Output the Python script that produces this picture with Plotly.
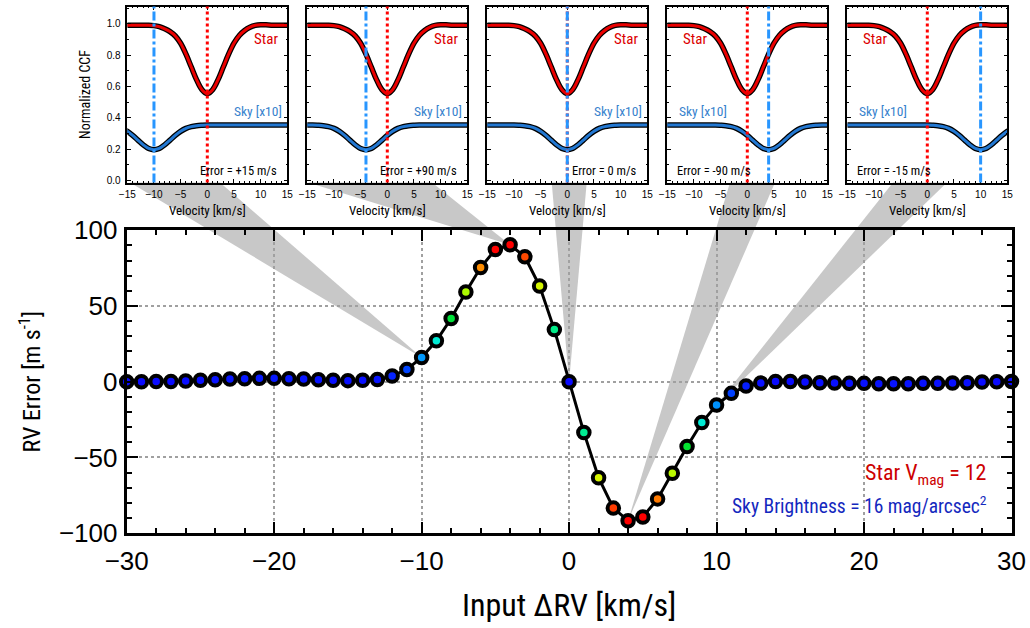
import plotly.graph_objects as go

W, H = 1030, 628

# ------------------------------------------------------------------ data
input_drv = list(range(-30, 31))
rv_error = [0.0, 0.0, 0.1, 0.2, 0.5, 0.9, 1.3, 1.8, 2.0, 2.2,
            2.2, 2.0, 1.8, 1.3, 0.9, 0.7, 0.9, 1.5, 3.7, 8.1,
            16.0, 27.0, 41.7, 59.2, 75.4, 87.3, 90.4, 82.5, 63.2, 34.4,
            0.0,
            -33.5, -63.4, -83.5, -91.8, -89.3, -77.4, -60.5, -42.8, -27.0, -15.4,
            -7.7, -2.9, -0.9, 0.2, 0.2, -0.2, -0.7, -0.9, -1.1, -1.1,
            -1.3, -1.3, -1.3, -1.1, -1.1, -0.9, -0.7, -0.2, 0.0, 0.2]

main_xticks = [-30, -20, -10, 0, 10, 20, 30]
main_yticks = [-100, -50, 0, 50, 100]

inset_star_rv = [0, 0, 0, 0, 0]
inset_sky_rv = [-10, -4, 0, 4, 10]
inset_highlight_drv = [-10, -4, 0, 4, 10]
inset_error_labels = ["Error = +15 m/s", "Error = +90 m/s", "Error = 0 m/s",
                      "Error = -90 m/s", "Error = -15 m/s"]

ccf_velocity = list(range(-15, 16))
star_ccf = [0.990, 0.990, 0.990, 0.990, 0.990, 0.988, 0.982, 0.968, 0.950, 0.922,
            0.876, 0.806, 0.724, 0.642, 0.579, 0.554, 0.579, 0.642, 0.724, 0.806,
            0.876, 0.925, 0.957, 0.978, 0.990, 0.994, 0.993, 0.991, 0.990, 0.990, 0.990]

sky_rel_velocity = list(range(-25, 26))
sky_ccf_x10 = [0.355] * 15 + [0.355, 0.353, 0.350, 0.344, 0.333, 0.314, 0.288, 0.258,
                              0.228, 0.205, 0.197, 0.205, 0.228, 0.258, 0.288, 0.314,
                              0.333, 0.344, 0.350, 0.353, 0.355] + [0.355] * 15

inset_xticks = [-15, -10, -5, 0, 5, 10, 15]
inset_yticks = [0.0, 0.2, 0.4, 0.6, 0.8, 1.0]
inset_ytick_labels = ["0.0", "0.2", "0.4", "0.6", "0.8", "1.0"]

# ------------------------------------------------------------------ layout geometry (pixels)
MAIN_L, MAIN_R, MAIN_T, MAIN_B = 126.7, 1011.5, 230.3, 533.1
INSET_L0, INSET_STEP, INSET_W = 127.3, 180.0, 160.0
INSET_T, INSET_B = 6.5, 182.5
WEDGE_BASE = [(130, 220), (308, 432), (551.7, 586.7), (730, 775), (893, 947)]

COND = "Roboto Condensed, DejaVu Sans Condensed, Liberation Sans Narrow, Roboto, sans-serif"
HELV = "Liberation Sans, Arial, Helvetica, sans-serif"

STAR_RED = "rgb(235,0,0)"
SKY_BLUE = "rgb(35,120,210)"
SKY_TEXT = "rgb(55,130,205)"
VLINE_BLUE = "rgb(40,150,255)"
WEDGE_GRAY = "rgb(200,200,200)"
GRID = "rgb(160,160,160)"


def fx(px):
    return px / W


def fy(py):
    return 1 - py / H


# full-page helper axis sharing the main plot's data scale (for connector wedges)
mx0, mx1 = fx(MAIN_L), fx(MAIN_R)
my0, my1 = fy(MAIN_B), fy(MAIN_T)
xr_main = [-30, 30]
yr_main = [-100, 100]
sx = (xr_main[1] - xr_main[0]) / (mx1 - mx0)
sy = (yr_main[1] - yr_main[0]) / (my1 - my0)
full_xr = [xr_main[0] - mx0 * sx, xr_main[1] + (1 - mx1) * sx]
full_yr = [yr_main[0] - my0 * sy, yr_main[1] + (1 - my1) * sy]


def page_to_full(px, py):
    return (full_xr[0] + fx(px) * (full_xr[1] - full_xr[0]),
            full_yr[0] + fy(py) * (full_yr[1] - full_yr[0]))


fig = go.Figure()

# connector wedges (drawn first, beneath everything)
for k, (bl, br) in enumerate(WEDGE_BASE):
    idx = input_drv.index(inset_highlight_drv[k])
    ax_, ay_ = input_drv[idx], rv_error[idx]
    lx, by = page_to_full(bl, INSET_B)
    rx, _ = page_to_full(br, INSET_B)
    fig.add_trace(go.Scatter(x=[lx, rx, ax_, lx], y=[by, by, ay_, by], mode="lines",
                             fill="toself", fillcolor=WEDGE_GRAY, line=dict(width=0),
                             xaxis="x", yaxis="y", hoverinfo="skip", showlegend=False))

# main curve
colorscale = [[0.0, "rgb(10,10,255)"], [0.08, "rgb(0,60,255)"], [0.17, "rgb(0,150,255)"],
              [0.29, "rgb(0,235,215)"], [0.37, "rgb(0,235,140)"], [0.46, "rgb(0,225,50)"],
              [0.64, "rgb(170,250,0)"], [0.69, "rgb(215,245,0)"], [0.81, "rgb(255,150,0)"],
              [0.90, "rgb(255,70,0)"], [0.95, "rgb(255,0,0)"], [1.0, "rgb(255,0,0)"]]
fig.add_trace(go.Scatter(
    x=input_drv, y=rv_error, mode="lines+markers", xaxis="x2", yaxis="y2",
    line=dict(color="black", width=3),
    marker=dict(size=11.5, color=[abs(v) for v in rv_error], colorscale=colorscale,
                cmin=0, cmax=92, line=dict(color="black", width=4)),
    cliponaxis=False, showlegend=False))

layout_axes = {}
annotations = []
shapes = []

layout_axes["xaxis"] = dict(domain=[0, 1], range=full_xr, visible=False, fixedrange=True,
                            automargin=False)
layout_axes["yaxis"] = dict(domain=[0, 1], range=full_yr, visible=False, fixedrange=True,
                            automargin=False)

layout_axes["xaxis2"] = dict(
    domain=[mx0, mx1], range=xr_main, anchor="y2", tickvals=main_xticks, automargin=False,
    ticks="inside", ticklen=11, tickwidth=2, tickcolor="black",
    minor=dict(dtick=2, ticks="inside", ticklen=5, tickwidth=2, tickcolor="black", showgrid=False),
    showline=True, linewidth=3, linecolor="black", mirror="ticks",
    showgrid=True, gridcolor=GRID, gridwidth=1.5, griddash="dot", zeroline=False,
    tickfont=dict(family=HELV, size=26, color="black"), ticklabelstandoff=3,
    title=dict(text="Input \u0394RV [km/s]", font=dict(family=COND, size=32, color="black"),
               standoff=19))
layout_axes["yaxis2"] = dict(
    domain=[my0, my1], range=yr_main, anchor="x2", tickvals=main_yticks, automargin=False,
    ticks="inside", ticklen=11, tickwidth=2, tickcolor="black",
    minor=dict(dtick=10, ticks="inside", ticklen=5, tickwidth=2, tickcolor="black", showgrid=False),
    showline=True, linewidth=3, linecolor="black", mirror="ticks",
    showgrid=True, gridcolor=GRID, gridwidth=1.5, griddash="dot", zeroline=False,
    tickfont=dict(family=HELV, size=26, color="black"), ticklabelstandoff=1,
    title=dict(text="RV Error [m s<sup>-1</sup>]", font=dict(family=COND, size=24, color="black"),
               standoff=12))

for i in range(5):
    n = i + 3
    xl = INSET_L0 + i * INSET_STEP
    xdom = [fx(xl), fx(xl + INSET_W)]
    ydom = [fy(INSET_B), fy(INSET_T)]
    xa, ya = f"x{n}", f"y{n}"
    layout_axes[f"xaxis{n}"] = dict(
        domain=xdom, range=[-15, 15], anchor=ya, tickvals=inset_xticks, automargin=False,
        ticks="inside", ticklen=4, tickwidth=1, tickcolor="black",
        minor=dict(dtick=1, ticks="inside", ticklen=2, tickwidth=1, tickcolor="black"),
        showline=True, linewidth=1.5, linecolor="black", mirror="ticks",
        showgrid=False, zeroline=False,
        tickfont=dict(family=HELV, size=10, color="black"), ticklabelstandoff=2,
        title=dict(text="Velocity [km/s]", font=dict(family=COND, size=13, color="black"),
                   standoff=7))
    yax = dict(
        domain=ydom, range=[-0.012, 1.11], anchor=xa, tickvals=inset_yticks, automargin=False,
        ticktext=inset_ytick_labels, showticklabels=(i == 0),
        ticks="inside", ticklen=4, tickwidth=1, tickcolor="black",
        minor=dict(dtick=0.1, ticks="inside", ticklen=2, tickwidth=1, tickcolor="black"),
        showline=True, linewidth=1.5, linecolor="black", mirror="ticks",
        showgrid=False, zeroline=False,
        tickfont=dict(family=HELV, size=10, color="black"), ticklabelstandoff=3)
    if i == 0:
        yax["title"] = dict(text="Normalized CCF", font=dict(family=COND, size=14, color="black"),
                            standoff=13)
    layout_axes[f"yaxis{n}"] = yax

    star_x = [v + inset_star_rv[i] for v in ccf_velocity]
    sky_x = [v + inset_sky_rv[i] for v in sky_rel_velocity]
    for xs, ys, col in ((star_x, star_ccf, STAR_RED), (sky_x, sky_ccf_x10, SKY_BLUE)):
        fig.add_trace(go.Scatter(x=xs, y=ys, mode="lines", xaxis=xa, yaxis=ya,
                                 line=dict(color="black", width=5.5, shape="spline", smoothing=1),
                                 hoverinfo="skip", showlegend=False))
        fig.add_trace(go.Scatter(x=xs, y=ys, mode="lines", xaxis=xa, yaxis=ya,
                                 line=dict(color=col, width=3, shape="spline", smoothing=1),
                                 hoverinfo="skip", showlegend=False))

    shapes.append(dict(type="line", xref=xa, yref=f"{ya} domain", x0=inset_star_rv[i],
                       x1=inset_star_rv[i], y0=0, y1=1,
                       line=dict(color="rgb(255,0,0)", width=3, dash="dot")))
    shapes.append(dict(type="line", xref=xa, yref=f"{ya} domain", x0=inset_sky_rv[i],
                       x1=inset_sky_rv[i], y0=0, y1=1,
                       line=dict(color=VLINE_BLUE, width=3, dash="dashdot")))

    right = i < 3
    if right:
        pos = dict(star=0.955, sky=0.978, err=0.95)
        anc = "right"
    else:
        pos = dict(star=0.083, sky=0.063, err=0.05)
        anc = "left"
    annotations.append(dict(text="Star", xref=f"{xa} domain", yref=ya, x=pos["star"], y=0.90,
                            xanchor=anc, yanchor="middle", showarrow=False,
                            font=dict(family=COND, size=15, color="rgb(220,0,0)")))
    annotations.append(dict(text="Sky [x10]", xref=f"{xa} domain", yref=ya, x=pos["sky"], y=0.445,
                            xanchor=anc, yanchor="middle", showarrow=False,
                            font=dict(family=COND, size=13.5, color=SKY_TEXT)))
    annotations.append(dict(text=inset_error_labels[i], xref=f"{xa} domain", yref=ya,
                            x=pos["err"], y=0.065, xanchor=anc, yanchor="middle", showarrow=False,
                            font=dict(family=COND, size=12.5, color="black")))

annotations.append(dict(text="Star V<sub>mag</sub> = 12", xref="x2 domain", yref="y2",
                        x=0.9735, y=-61, xanchor="right", yanchor="middle", showarrow=False,
                        font=dict(family=COND, size=22, color="rgb(205,0,0)")))
annotations.append(dict(text="Sky Brightness = 16 mag/arcsec<sup>2</sup>", xref="x2 domain", yref="y2",
                        x=0.9745, y=-81.5, xanchor="right", yanchor="middle", showarrow=False,
                        font=dict(family=COND, size=19.5, color="rgb(20,40,190)")))

fig.update_layout(
    width=W, height=H, margin=dict(l=0, r=0, t=0, b=0),
    paper_bgcolor="white", plot_bgcolor="rgba(0,0,0,0)",
    showlegend=False, annotations=annotations, shapes=shapes,
    **layout_axes)

fig.write_html("out.html", config={"displayModeBar": False},
               post_script="document.body.style.margin='0px';")
